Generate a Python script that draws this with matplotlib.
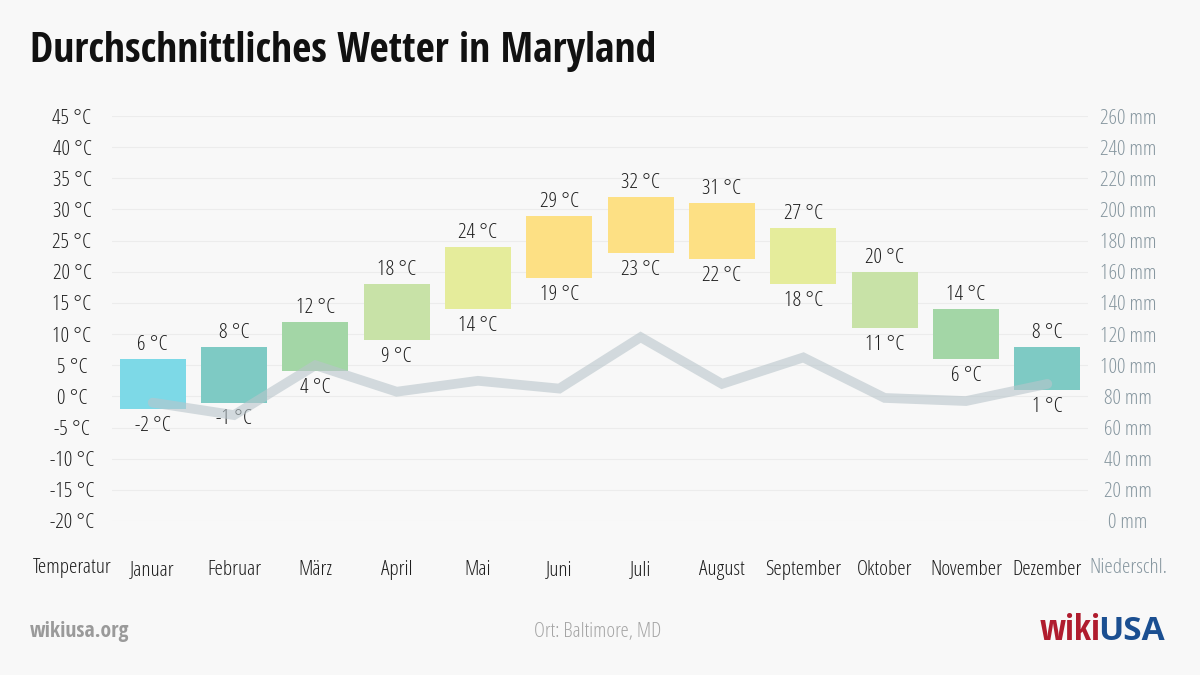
import matplotlib
matplotlib.use("Agg")
import matplotlib.pyplot as plt
from matplotlib import font_manager as fm
from matplotlib.font_manager import FontProperties

months = ["Januar", "Februar", "März", "April", "Mai", "Juni", "Juli",
          "August", "September", "Oktober", "November", "Dezember"]
temp_max = [6, 8, 12, 18, 24, 29, 32, 31, 27, 20, 14, 8]
temp_min = [-2, -1, 4, 9, 14, 19, 23, 22, 18, 11, 6, 1]
precip = [76, 68, 100, 83, 90, 85, 118, 88, 105, 79, 77, 88]
bar_colors = ["#7dd9e7", "#7ecac4", "#a3d6a6", "#c8e2a7", "#e5ec9b", "#fde084",
              "#fde084", "#fde084", "#e5ec9b", "#c8e2a7", "#a3d6a6", "#7ecac4"]
temp_ticks = list(range(-20, 50, 5))
precip_ticks = list(range(0, 280, 20))


def find_font(fname_part):
    for f in fm.fontManager.ttflist:
        if f.fname.endswith(fname_part):
            return f.fname
    return None


light_path = find_font("OpenSans-CondLight.ttf")
bold_cond_path = find_font("OpenSans-CondBold.ttf")
bold_path = find_font("OpenSans-Bold.ttf")


def fp(path, size, family="Open Sans", weight='normal'):
    if path:
        return FontProperties(fname=path, size=size)
    return FontProperties(family=family, size=size, weight=weight)


FS = 15.3
f_light = fp(light_path, FS)
plt.rcParams['font.family'] = ['Open Sans', 'DejaVu Sans']

bg = "#f8f8f8"
dark = "#1e1e1e"
gray_blue = "#8797a0"
fig = plt.figure(figsize=(12, 6.75), dpi=100, facecolor=bg)
ax = fig.add_axes([112/1200, 154/675, (1088-112)/1200, 405/675])
ax.set_facecolor(bg)
x = list(range(1, 13))
heights = [a - b for a, b in zip(temp_max, temp_min)]
ax.bar(x, heights, bottom=temp_min, width=0.81, color=bar_colors, zorder=2)
ax.set_xlim(0.5, 12.5)
ax.set_ylim(-20, 45)
ax.set_yticks(temp_ticks)
ax.set_yticklabels([f"{t} °C" for t in temp_ticks])
ax.tick_params(axis='y', length=0, colors=dark, pad=28.8)
for lab in ax.get_yticklabels():
    lab.set_fontproperties(f_light)
    lab.set_ha('center')
ax.set_xticks(x)
ax.set_xticklabels(months)
ax.tick_params(axis='x', length=0, colors=dark, pad=35)
for lab in ax.get_xticklabels():
    lab.set_fontproperties(f_light)
    lab.set_va('center')
for s in ax.spines.values():
    s.set_visible(False)
ax.grid(axis='y', color="#ececec", linewidth=0.8, zorder=0)

for xi, hi, lo in zip(x, temp_max, temp_min):
    ax.annotate(f"{hi} °C", (xi, hi), xytext=(0, 10), textcoords='offset points',
                ha='center', va='center', fontproperties=f_light, color=dark)
    ax.annotate(f"{lo} °C", (xi, lo), xytext=(0, -12), textcoords='offset points',
                ha='center', va='center', fontproperties=f_light, color=dark)

ax2 = ax.twinx()
ax2.set_ylim(0, 260)
ax2.set_yticks(precip_ticks)
ax2.set_yticklabels([f"{p} mm" for p in precip_ticks])
ax2.tick_params(axis='y', length=0, colors=gray_blue, pad=28.8)
for lab in ax2.get_yticklabels():
    lab.set_fontproperties(f_light)
    lab.set_ha('center')
for s in ax2.spines.values():
    s.set_visible(False)
ax2.plot(x, precip, color="#b9c5cb", alpha=0.6, linewidth=7, solid_capstyle='round',
         solid_joinstyle='miter', zorder=3)

fig.text(30/1200, 1 - 52/675, "Durchschnittliches Wetter in Maryland",
         fontproperties=fp(bold_cond_path, 30, "Open Sans Condensed", 'bold'),
         color="#111111", va='center', ha='left')
fig.text(72/1200, 1 - 568/675, "Temperatur", fontproperties=f_light, color=dark,
         ha='center', va='center')
fig.text(1128/1200, 1 - 568/675, "Niederschl.", fontproperties=f_light, color=gray_blue,
         ha='center', va='center')
fig.text(30/1200, 1 - 632/675, "wikiusa.org",
         fontproperties=fp(bold_cond_path, 15.6, "Open Sans Condensed", 'bold'),
         color="#9a9a9a", ha='left', va='center')
fig.text(598/1200, 1 - 632/675, "Ort: Baltimore, MD", fontproperties=fp(light_path, 15),
         color="#a5a5a5", ha='center', va='center')
fig.text(1101/1200, 1 - 631/675, "wiki",
         fontproperties=fp(bold_cond_path, 26, "Open Sans Condensed", 'bold'),
         color="#b01c2e", ha='right', va='center')
fig.text(1098/1200, 1 - 631/675, "USA", fontproperties=fp(bold_path, 24, "Open Sans", 'bold'),
         color="#1b4f91", ha='left', va='center')

fig.savefig("out.png", dpi=100, facecolor=bg)
